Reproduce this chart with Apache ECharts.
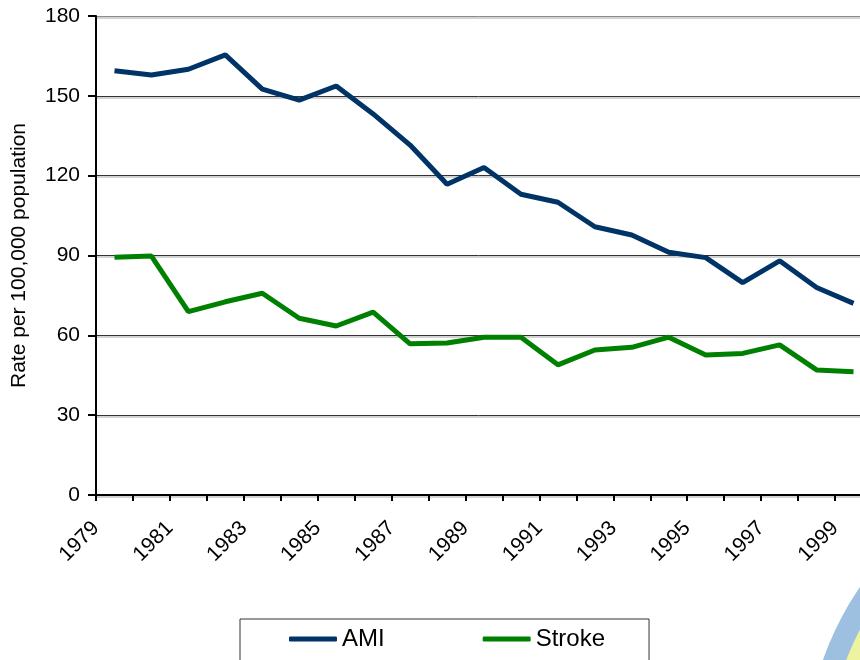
<!DOCTYPE html>
<html>
<head>
<meta charset="utf-8">
<script src="https://cdn.jsdelivr.net/npm/echarts@6/dist/echarts.min.js"></script>
<style>
  html, body { margin: 0; padding: 0; background: #fff; }
  #main { width: 860px; height: 660px; }
</style>
</head>
<body>
<div id="main"></div>
<script>
// years for each data point
var years = ['1979', '1980', '1981', '1982', '1983', '1984', '1985', '1986', '1987', '1988', '1989',
  '1990', '1991', '1992', '1993', '1994', '1995', '1996', '1997', '1998', '1999'];
// tick labels sit on the boundaries between years
var tickYears = ['1979', '1980', '1981', '1982', '1983', '1984', '1985', '1986', '1987', '1988', '1989',
  '1990', '1991', '1992', '1993', '1994', '1995', '1996', '1997', '1998', '1999', '2000'];
var amiRates = [159.4, 157.8, 160.0, 165.4, 152.5, 148.4, 153.7, 143.2, 131.5, 116.8, 123.1,
  113.0, 110.0, 100.8, 97.7, 91.2, 89.2, 79.8, 88.0, 78.0, 72.0];
var strokeRates = [89.3, 89.8, 68.9, 72.6, 75.8, 66.4, 63.5, 68.7, 56.8, 57.1, 59.3,
  59.3, 48.9, 54.5, 55.5, 59.3, 52.6, 53.2, 56.4, 47.0, 46.3];
var yTicks = [0, 30, 60, 90, 120, 150, 180];

document.addEventListener("DOMContentLoaded", function(){
  var chartDom = document.getElementById('main');
  var myChart = echarts.init(chartDom, null, { renderer: 'canvas' });
  var option;

  option = {
    animation: false,
    backgroundColor: '#fff',
    textStyle: { fontFamily: 'Liberation Sans, Arial, sans-serif', color: '#000' },
    grid: { left: 96, top: 16, width: 776, height: 479, containLabel: false, outerBoundsMode: 'none' },
    legend: {
      left: 240,
      top: 619,
      padding: [8, 44, 40, 49],
      borderColor: '#333',
      borderWidth: 1,
      itemWidth: 48,
      itemHeight: 5,
      itemGap: 98,
      icon: 'roundRect',
      textStyle: {
        fontFamily: 'Liberation Sans Narrow, Arial Narrow, Liberation Sans, Arial, sans-serif',
        fontSize: 24,
        color: '#000'
      },
      data: ['AMI', 'Stroke']
    },
    xAxis: [
      {
        type: 'category',
        data: years,
        boundaryGap: true,
        axisLine: { lineStyle: { color: '#000', width: 2 } },
        axisTick: { show: true, interval: 0, length: 6, lineStyle: { color: '#000', width: 2 } },
        axisLabel: { show: false },
        splitLine: { show: false }
      },
      {
        type: 'category',
        data: tickYears,
        boundaryGap: false,
        position: 'bottom',
        axisLine: { show: false },
        axisTick: { show: false },
        axisLabel: {
          interval: 1,
          rotate: 45,
          margin: 30,
          fontSize: 21,
          color: '#000'
        },
        splitLine: { show: false }
      }
    ],
    yAxis: {
      type: 'value',
      min: yTicks[0],
      max: yTicks[yTicks.length - 1],
      interval: 30,
      name: 'Rate per 100,000 population',
      nameLocation: 'middle',
      nameGap: 66,
      nameRotate: 90,
      nameTextStyle: { fontSize: 21, color: '#000' },
      axisLine: { show: true, lineStyle: { color: '#000', width: 2 } },
      axisTick: { show: true, length: 8, lineStyle: { color: '#000', width: 2 } },
      axisLabel: { fontSize: 21, color: '#000', margin: 16 },
      splitLine: {
        show: true,
        lineStyle: {
          color: ['#333', '#333', '#333', '#333', '#333', '#333', '#8a8a8a'],
          width: 1,
          shadowColor: 'rgba(0,0,0,0.35)',
          shadowOffsetY: 1.5
        }
      }
    },
    graphic: [
      {
        type: 'circle',
        silent: true,
        z: -1,
        shape: { cx: 1110, cy: 760, r: 304 },
        style: { fill: '#9dc0e0' }
      },
      {
        type: 'circle',
        silent: true,
        z: -1,
        shape: { cx: 1110, cy: 760, r: 282 },
        style: { fill: '#eef3a0' }
      }
    ],
    series: [
      {
        name: 'AMI',
        type: 'line',
        xAxisIndex: 0,
        data: amiRates,
        symbol: 'none',
        color: '#003366',
        lineStyle: { width: 5, color: '#003366' }
      },
      {
        name: 'Stroke',
        type: 'line',
        xAxisIndex: 0,
        data: strokeRates,
        symbol: 'none',
        color: '#008000',
        lineStyle: { width: 5, color: '#008000' }
      }
    ]
  };

  option && myChart.setOption(option);
});
</script>
</body>
</html>
